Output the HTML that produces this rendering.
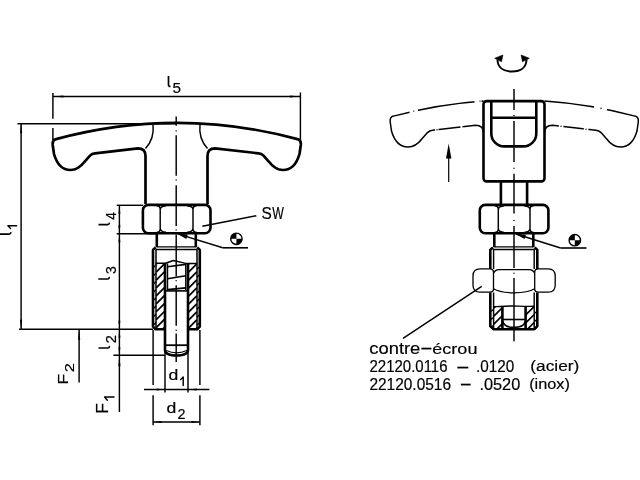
<!DOCTYPE html>
<html><head><meta charset="utf-8"><style>html,body{margin:0;padding:0;background:#fff;}svg{display:block;will-change:transform;}text{font-family:"Liberation Sans",sans-serif;fill:#000;stroke:#000;stroke-width:0.18px;}</style></head><body>
<svg width="640" height="480" viewBox="0 0 640 480">
<rect x="0" y="0" width="640" height="480" fill="#fff"/>
<g fill="none" stroke="#000" stroke-linecap="butt" stroke-linejoin="round">
<path d="M145.5 204 L145.5 156 Q145.5 148.3 138 148.3 L95 153.3 Q92 153.6 90 155.6 L84.5 161.8 C81 166.5 76.5 170 70.5 170 C60 170 56 161 54 154 L52.7 145 C52.3 141 54 139.5 56 139.1 Q176.75 106.6 297.5 139.1 C299.5 139.5 301.2 141 300.8 145 L299.5 154 C297.5 161 293.5 170 283 170 C277 170 272.5 166.5 269 161.8 L263.5 155.6 Q261.5 153.6 258.5 153.3 L215 148.3 Q207.5 148.3 207.5 156 L207.5 204" stroke-width="2.7" />
<path d="M153 124.5 C154 133 151.5 142 145.5 148.5" stroke-width="1.45" />
<path d="M200 124.5 C199 133 201.5 142 207.5 148.5" stroke-width="1.45" />
<rect x="142.9" y="204.9" width="67.60" height="28.30" rx="5.5" stroke-width="2.6"/>
<path d="M156.60 205.80 Q160.20 205.80 160.20 209.40 L160.20 228.70 Q160.20 232.30 156.60 232.30 M166.00 205.80 Q160.20 206.40 160.20 209.80 M160.20 228.30 Q160.20 231.70 166.00 232.30" stroke-width="1.45"/>
<path d="M196.60 205.80 Q193.00 205.80 193.00 209.40 L193.00 228.70 Q193.00 232.30 196.60 232.30 M187.20 205.80 Q193.00 206.40 193.00 209.80 M193.00 228.30 Q193.00 231.70 187.20 232.30" stroke-width="1.45"/>
<line x1="156.8" y1="233.1" x2="156.8" y2="247.2" stroke-width="2.6"/>
<line x1="195.8" y1="233.1" x2="195.8" y2="247.2" stroke-width="2.6"/>
<line x1="156.8" y1="246.9" x2="195.8" y2="246.9" stroke-width="1.3"/>
<path d="M155.5 249.5 L197.3 249.5" stroke-width="1.7" />
<path d="M165 329.3 L155.6 329.3 L153 326.7 L153 249.9 L155.6 247.4" stroke-width="2.6" />
<path d="M188.1 329.3 L197.2 329.3 L199.8 326.7 L199.8 249.9 L197.2 247.4" stroke-width="2.6" />
<line x1="156.0" y1="249.5" x2="156.0" y2="329" stroke-width="1.5"/>
<line x1="197.0" y1="249.5" x2="197.0" y2="329" stroke-width="1.5"/>
<path d="M155.7 263.2 L165.5 263.2 L173.4 260.5 L185.8 263.4 L197.1 263.4" stroke-width="1.45" />
<path d="M157.07 263.30L156.20 264.17M164.40 263.90L156.20 272.10M164.40 271.83L156.20 280.03M164.40 279.76L156.20 287.96M164.40 287.69L156.20 295.89M164.40 295.62L156.20 303.82M164.40 303.55L156.20 311.75M164.40 311.48L156.20 319.68M164.40 319.41L156.20 327.61M164.40 327.34L162.74 329.00" stroke-width="1.7" />
<path d="M189.15 263.60L188.60 264.15M196.80 263.95L188.60 272.15M196.80 271.95L188.60 280.15M196.80 279.95L188.60 288.15M196.80 287.95L188.60 296.15M196.80 295.95L188.60 304.15M196.80 303.95L188.60 312.15M196.80 311.95L188.60 320.15M196.80 319.95L188.60 328.15M196.80 327.95L195.75 329.00" stroke-width="1.7" />
<line x1="153.6" y1="267.3" x2="156.0" y2="265.09999999999997" stroke-width="1.3"/>
<line x1="153.6" y1="275.5" x2="156.0" y2="273.29999999999995" stroke-width="1.3"/>
<line x1="153.6" y1="283.7" x2="156.0" y2="281.49999999999994" stroke-width="1.3"/>
<line x1="153.6" y1="291.90000000000003" x2="156.0" y2="289.7" stroke-width="1.3"/>
<line x1="153.6" y1="300.1" x2="156.0" y2="297.9" stroke-width="1.3"/>
<line x1="153.6" y1="308.3" x2="156.0" y2="306.09999999999997" stroke-width="1.3"/>
<line x1="153.6" y1="316.5" x2="156.0" y2="314.29999999999995" stroke-width="1.3"/>
<line x1="153.6" y1="324.7" x2="156.0" y2="322.49999999999994" stroke-width="1.3"/>
<line x1="197.0" y1="269.1" x2="199.4" y2="266.9" stroke-width="1.3"/>
<line x1="197.0" y1="277.1" x2="199.4" y2="274.9" stroke-width="1.3"/>
<line x1="197.0" y1="285.1" x2="199.4" y2="282.9" stroke-width="1.3"/>
<line x1="197.0" y1="293.1" x2="199.4" y2="290.9" stroke-width="1.3"/>
<line x1="197.0" y1="301.1" x2="199.4" y2="298.9" stroke-width="1.3"/>
<line x1="197.0" y1="309.1" x2="199.4" y2="306.9" stroke-width="1.3"/>
<line x1="197.0" y1="317.1" x2="199.4" y2="314.9" stroke-width="1.3"/>
<line x1="197.0" y1="325.1" x2="199.4" y2="322.9" stroke-width="1.3"/>
<path d="M165.0 263.2 L165.0 349.8 C165.0 353.6 170 355.5 176.5 355.5 C183 355.5 188.0 353.6 188.0 349.8 L188.0 263.4" stroke-width="2.6" />
<path d="M166.3 350.6 Q176.5 355.2 186.7 350.6" stroke-width="1.1" />
<line x1="165.0" y1="345.2" x2="188.0" y2="345.2" stroke-width="1.8"/>
<line x1="167.5" y1="263.4" x2="167.5" y2="290.8" stroke-width="1.45"/>
<line x1="185.8" y1="263.4" x2="185.8" y2="290.8" stroke-width="1.45"/>
<line x1="167.5" y1="266.7" x2="185.8" y2="264.4" stroke-width="1.6"/>
<line x1="167.5" y1="278.8" x2="185.8" y2="275.8" stroke-width="1.6"/>
<line x1="167.5" y1="289.6" x2="185.8" y2="287.9" stroke-width="1.6"/>
<line x1="165.2" y1="290.9" x2="188.1" y2="290.9" stroke-width="1.6"/>
<path d="M176.2 116.5 L176.2 125.8 M176.2 130.5 L176.2 131.5 M176.2 135.2 L176.2 175.8 M176.2 179.5 L176.2 180.5 M176.2 185.2 L176.2 226 M176.2 229.5 L176.2 230.5 M176.2 234.5 L176.2 276.5 M176.2 280.3 L176.2 281.3 M176.2 285.2 L176.2 325.8 M176.2 329.8 L176.2 330.8 M176.2 333.5 L176.2 362" stroke-width="1.45"/>
<line x1="52.9" y1="93" x2="52.9" y2="118.8" stroke-width="1.45"/>
<line x1="52.9" y1="128" x2="52.9" y2="140" stroke-width="1.45"/>
<line x1="300.4" y1="92.5" x2="300.4" y2="140" stroke-width="1.45"/>
<line x1="52.9" y1="96.5" x2="300.4" y2="96.5" stroke-width="1.45"/>
<path d="M53.40 96.50 L63.40 95.55 L63.40 97.45 Z" fill="#000" stroke="none"/>
<path d="M299.90 96.50 L289.90 97.45 L289.90 95.55 Z" fill="#000" stroke="none"/>
<line x1="17.5" y1="123.7" x2="176" y2="123.7" stroke-width="1.45"/>
<line x1="21.1" y1="123.7" x2="21.1" y2="329.2" stroke-width="1.45"/>
<path d="M21.10 124.20 L22.20 133.20 L20.00 133.20 Z" fill="#000" stroke="none"/>
<path d="M21.10 328.70 L20.00 319.70 L22.20 319.70 Z" fill="#000" stroke="none"/>
<line x1="19" y1="329.2" x2="153" y2="329.2" stroke-width="1.45"/>
<line x1="116.7" y1="205.3" x2="143" y2="205.3" stroke-width="1.45"/>
<line x1="116.7" y1="233.8" x2="156.8" y2="233.8" stroke-width="1.45"/>
<line x1="119.4" y1="205.3" x2="119.4" y2="412" stroke-width="1.45"/>
<path d="M119.40 205.80 L120.40 213.80 L118.40 213.80 Z" fill="#000" stroke="none"/>
<path d="M119.40 233.30 L118.40 225.30 L120.40 225.30 Z" fill="#000" stroke="none"/>
<path d="M119.40 234.30 L120.40 242.30 L118.40 242.30 Z" fill="#000" stroke="none"/>
<path d="M119.40 328.70 L118.40 320.70 L120.40 320.70 Z" fill="#000" stroke="none"/>
<path d="M119.40 329.70 L120.40 337.70 L118.40 337.70 Z" fill="#000" stroke="none"/>
<path d="M119.40 355.20 L118.40 347.20 L120.40 347.20 Z" fill="#000" stroke="none"/>
<line x1="113.4" y1="355.3" x2="165.0" y2="355.3" stroke-width="1.45"/>
<path d="M119.40 356.20 L120.50 366.20 L118.30 366.20 Z" fill="#000" stroke="none"/>
<line x1="79.1" y1="329.2" x2="79.1" y2="382.4" stroke-width="1.45"/>
<path d="M79.10 329.80 L80.20 339.80 L78.00 339.80 Z" fill="#000" stroke="none"/>
<line x1="165.0" y1="352" x2="165.0" y2="392.5" stroke-width="1.45"/>
<line x1="188.0" y1="352" x2="188.0" y2="392.5" stroke-width="1.45"/>
<line x1="144" y1="389.5" x2="209.4" y2="389.5" stroke-width="1.45"/>
<path d="M164.70 389.50 L156.70 390.50 L156.70 388.50 Z" fill="#000" stroke="none"/>
<path d="M188.60 389.50 L196.60 388.50 L196.60 390.50 Z" fill="#000" stroke="none"/>
<line x1="153.1" y1="330" x2="153.1" y2="385" stroke-width="1.45"/>
<line x1="199.9" y1="330" x2="199.9" y2="385" stroke-width="1.45"/>
<line x1="153.1" y1="395.3" x2="153.1" y2="425.3" stroke-width="1.45"/>
<line x1="199.9" y1="395.3" x2="199.9" y2="425.3" stroke-width="1.45"/>
<line x1="153.1" y1="422" x2="199.9" y2="422" stroke-width="1.45"/>
<path d="M153.60 422.00 L161.60 421.00 L161.60 423.00 Z" fill="#000" stroke="none"/>
<path d="M199.40 422.00 L191.40 423.00 L191.40 421.00 Z" fill="#000" stroke="none"/>
<line x1="256.3" y1="215.8" x2="202.3" y2="226.3" stroke-width="1.45"/>
<line x1="177.8" y1="233.9" x2="222.7" y2="247.8" stroke-width="1.45"/>
<line x1="222.7" y1="247.8" x2="248" y2="247.8" stroke-width="1.6"/>
<path d="M177.00 233.60 L187.71 234.50 L186.35 238.90 Z" fill="#000" stroke="none"/>
<path d="M483.5 100.9 Q438.5 104.0 393.5 116.1 C391.5 116.5 389.8 118 390.2 122 L391.5 131 C393.5 138 397.5 147 408 147 C414 147 418.5 143.5 422 138.8 L427.5 132.6 Q429.5 130.6 432.5 130.3 L475.5 125.3 Q483.5 125.3 483.5 133" stroke-width="1.5" />
<path d="M544.5 100.9 Q589.8 103.9 635 116.1 C637 116.5 638.7 118 638.3 122 L637 131 C635 138 631 147 620.5 147 C614.5 147 610 143.5 606.5 138.8 L601 132.6 Q599 130.6 596 130.3 L552.5 125.3 Q544.5 125.3 544.5 133" stroke-width="1.5" />
<line x1="409.5" y1="112.08" x2="418" y2="110.18" stroke="#fff" stroke-width="3.2"/>
<circle cx="413.8" cy="111.1" r="0.7" fill="#000" stroke="none"/>
<line x1="474.5" y1="101.6" x2="481.5" y2="101.04" stroke="#fff" stroke-width="3.2"/>
<circle cx="480.0" cy="101.1" r="0.7" fill="#000" stroke="none"/>
<line x1="435" y1="130.01" x2="438.5" y2="129.6" stroke="#fff" stroke-width="3.2"/>
<circle cx="437" cy="129.78" r="0.7" fill="#000" stroke="none"/>
<line x1="460.5" y1="127.1" x2="462.5" y2="126.9" stroke="#fff" stroke-width="3.2"/>
<line x1="594" y1="106.94" x2="607" y2="109.44" stroke="#fff" stroke-width="3.2"/>
<circle cx="601" cy="108.24" r="0.7" fill="#000" stroke="none"/>
<line x1="558.8" y1="126.02" x2="563.4" y2="126.55" stroke="#fff" stroke-width="3.2"/>
<circle cx="561" cy="126.28" r="0.7" fill="#000" stroke="none"/>
<line x1="583.8" y1="128.9" x2="588.4" y2="129.4" stroke="#fff" stroke-width="3.2"/>
<circle cx="586" cy="129.15" r="0.7" fill="#000" stroke="none"/>
<rect x="483.5" y="101.1" width="61" height="80.3" rx="3.2" fill="#fff" stroke-width="2.6"/>
<path d="M491.3 101.1 L491.3 133.4 C491.3 140.6 497.1 146.4 504.3 146.4 L523.3 146.4 C530.5 146.4 536.3 140.6 536.3 133.4 L536.3 101.1" stroke-width="2.6" />
<line x1="491.3" y1="117.8" x2="536.3" y2="117.8" stroke-width="2.6"/>
<line x1="500.9" y1="181" x2="500.9" y2="205" stroke-width="2.6"/>
<line x1="527.1" y1="181" x2="527.1" y2="205" stroke-width="2.6"/>
<rect x="479.8" y="204.9" width="68.60" height="28.40" rx="5.5" stroke-width="2.6"/>
<path d="M494.70 205.80 Q498.30 205.80 498.30 209.40 L498.30 228.80 Q498.30 232.40 494.70 232.40 M504.10 205.80 Q498.30 206.40 498.30 209.80 M498.30 228.40 Q498.30 231.80 504.10 232.40" stroke-width="1.45"/>
<path d="M533.60 205.80 Q530.00 205.80 530.00 209.40 L530.00 228.80 Q530.00 232.40 533.60 232.40 M524.20 205.80 Q530.00 206.40 530.00 209.80 M530.00 228.40 Q530.00 231.80 524.20 232.40" stroke-width="1.45"/>
<line x1="494.3" y1="233.2" x2="494.3" y2="247.2" stroke-width="2.6"/>
<line x1="533.3" y1="233.2" x2="533.3" y2="247.2" stroke-width="2.6"/>
<line x1="494.3" y1="246.9" x2="533.3" y2="246.9" stroke-width="1.3"/>
<path d="M492.8 249.5 L534.8 249.5" stroke-width="1.7" />
<path d="M492.9 247.4 L490.3 249.9 L490.3 326.2 L493.3 329.2 L534.3 329.2 L537.3 326.2 L537.3 249.9 L534.7 247.4" stroke-width="2.6" />
<line x1="493.6" y1="249.5" x2="493.6" y2="329" stroke-width="1.45"/>
<line x1="534.2" y1="249.5" x2="534.2" y2="329" stroke-width="1.45"/>
<path d="M493.6 306.6 C500 306.8 505 306.2 510 306 C516 305.8 522 306.6 534.2 306.3" stroke-width="1.45" />
<path d="M495.20 306.80L493.80 308.20M502.00 308.00L493.80 316.20M502.00 316.00L493.80 324.20M502.00 324.00L497.10 328.90" stroke-width="1.7" />
<path d="M526.10 306.60L526.00 306.70M534.10 306.60L526.00 314.70M534.20 314.50L526.00 322.70M534.20 322.50L527.80 328.90" stroke-width="1.7" />
<line x1="490.9" y1="311.6" x2="493.3" y2="309.4" stroke-width="1.3"/>
<line x1="534.4" y1="313.6" x2="536.8" y2="311.4" stroke-width="1.3"/>
<line x1="490.9" y1="319.6" x2="493.3" y2="317.4" stroke-width="1.3"/>
<line x1="534.4" y1="321.6" x2="536.8" y2="319.4" stroke-width="1.3"/>
<line x1="490.9" y1="327.6" x2="493.3" y2="325.4" stroke-width="1.3"/>
<line x1="534.4" y1="329.6" x2="536.8" y2="327.4" stroke-width="1.3"/>
<line x1="502.4" y1="306.5" x2="502.4" y2="329" stroke-width="2.6"/>
<line x1="525.6" y1="306.4" x2="525.6" y2="329" stroke-width="2.6"/>
<path d="M502.8 321.5 C504 326.3 509 327.4 514 327.4 C519 327.4 524 326.3 525.2 321.5" stroke-width="1.6" />
<line x1="502.5" y1="319.5" x2="525.5" y2="319.5" stroke-width="1.6"/>
<path d="M473 276 Q473 268.9 480 268.9 L548.2 268.9 Q555.2 268.9 555.2 276 L555.2 285 Q555.2 292.4 548.2 292.4 L480 292.4 Q473 292.4 473 285 Z" fill="#fff" stroke="none"/>
<path d="M493.5 271.8 Q493.2 268.9 490 268.9 L480 268.9 Q473 268.9 473 276 L473 285 Q473 292.2 480 292.2 L490 292.2 Q493.2 292.1 493.5 289.5 Z" stroke-width="1.3" />
<path d="M534.7 271.8 Q535 268.9 538.2 268.9 L548.2 268.9 Q555.2 268.9 555.2 276 L555.2 285 Q555.2 292.2 548.2 292.2 L538.2 292.2 Q535 292.1 534.7 289.5 Z" stroke-width="1.3" />
<path d="M493.5 273.2 Q495 269.8 499 269.6 L529.2 269.6 Q533.2 269.8 534.7 273.2 M493.5 288.8 Q500 292.8 514 292.8 Q528 292.8 534.7 288.8" stroke-width="1.3" />
<path d="M514 88.9 L514 110 M514 115 L514 116 M514 121 L514 162 M514 167.8 L514 168.8 M514 173.8 L514 213.6 M514 220 L514 221 M514 226 L514 268 M514 272.8 L514 273.8 M514 278 L514 341.3" stroke-width="1.45"/>
<line x1="516" y1="234.0" x2="560.6" y2="248.0" stroke-width="1.45"/>
<line x1="560.6" y1="248.0" x2="586.5" y2="248.0" stroke-width="1.6"/>
<path d="M515.20 233.70 L525.91 234.65 L524.53 239.04 Z" fill="#000" stroke="none"/>
<line x1="481.7" y1="286.4" x2="403" y2="338.4" stroke-width="1.45"/>
<path d="M497.5 59.5 C497.5 67.5 503.5 71.5 512 71.5 C520.5 71.5 526.5 67.5 526.5 59.5" stroke-width="2.0" />
<path d="M494.7 58.3 L502.9 55 L501.5 61.8 Z" fill="#000" stroke="#000" stroke-width="0.6"/>
<path d="M529.3 58.3 L521.1 55 L522.5 61.8 Z" fill="#000" stroke="#000" stroke-width="0.6"/>
<line x1="448.7" y1="156" x2="448.7" y2="182" stroke-width="1.2"/>
<path d="M448.7 143.5 L451.4 158.5 L446 158.5 Z" fill="#000" stroke="none"/>
</g>
<circle cx="236.4" cy="238.8" r="5.7" fill="#fff" stroke="#000" stroke-width="1.4"/>
<path d="M236.4 238.8 L230.70000000000002 238.8 A5.7 5.7 0 0 1 236.4 233.10000000000002 Z M236.4 238.8 L242.1 238.8 A5.7 5.7 0 0 1 236.4 244.5 Z" fill="#000"/>
<circle cx="574.8" cy="240.2" r="5.7" fill="#fff" stroke="#000" stroke-width="1.4"/>
<path d="M574.8 240.2 L569.0999999999999 240.2 A5.7 5.7 0 0 1 574.8 234.5 Z M574.8 240.2 L580.5 240.2 A5.7 5.7 0 0 1 574.8 245.89999999999998 Z" fill="#000"/>
<text x="0" y="0" font-size="14" transform="matrix(1.0923 0.0000 0.0000 1.0316 172.5808 92.7000)">5</text>
<text x="0" y="0" font-size="15.5" transform="matrix(0.9943 0.0000 0.0000 1.0419 261.4543 218.6000)">S</text>
<text x="0" y="0" font-size="15.5" transform="matrix(0.7930 0.0000 0.0000 1.0419 272.3018 218.6000)">W</text>
<text x="0" y="0" font-size="14.5" transform="matrix(1.2154 0.0000 0.0000 1.0095 168.4923 379.7000)">d</text>
<text x="0" y="0" font-size="14.5" transform="matrix(1.2154 0.0000 0.0000 1.0286 166.3923 412.6000)">d</text>
<text x="0" y="0" font-size="13.5" transform="matrix(1.0667 0.0000 0.0000 1.0421 177.6000 418.7000)">2</text>
<text x="0" y="0" font-size="16" transform="matrix(1.1465 0.0000 0.0000 1.0667 369.3401 354.1333)">contre</text>
<text x="0" y="0" font-size="16" transform="matrix(1.1000 0.0000 0.0000 1.3000 421.4000 354.3500)">–</text>
<text x="0" y="0" font-size="16" transform="matrix(1.1294 0.0000 0.0000 0.9500 432.2529 354.1625)">écrou</text>
<text x="0" y="0" font-size="15.5" transform="matrix(0.9678 0.0000 0.0000 1.0093 369.4741 371.7500)">22120.0116</text>
<text x="0" y="0" font-size="15.5" transform="matrix(1.2353 0.0000 0.0000 1.3000 457.6000 373.2500)">–</text>
<text x="0" y="0" font-size="15.5" transform="matrix(0.9878 0.0000 0.0000 1.0093 476.0184 371.7500)">.0120</text>
<text x="0" y="0" font-size="15.5" transform="matrix(1.1167 0.0000 0.0000 0.9655 530.2833 371.3621)">(acier)</text>
<text x="0" y="0" font-size="15.5" transform="matrix(0.9963 0.0000 0.0000 1.0233 369.4528 389.5000)">22120.0516</text>
<text x="0" y="0" font-size="15.5" transform="matrix(1.1059 0.0000 0.0000 1.3000 461.1000 390.1500)">–</text>
<text x="0" y="0" font-size="15.5" transform="matrix(1.0531 0.0000 0.0000 1.0233 479.4204 389.5000)">.0520</text>
<text x="0" y="0" font-size="15.5" transform="matrix(1.0531 0.0000 0.0000 0.9655 529.1469 388.9621)">(inox)</text>
<text x="0" y="0" font-size="15" transform="matrix(0.0000 -1.1586 1.0341 0.0000 67.5000 384.5483)">F</text>
<text x="0" y="0" font-size="13.5" transform="matrix(0.0000 -1.2167 1.0000 0.0000 73.7000 372.3125)">2</text>
<text x="0" y="0" font-size="15" transform="matrix(0.0000 -1.1724 1.0732 0.0000 108.0000 413.8655)">F</text>
<text x="0" y="0" font-size="13.5" transform="matrix(0.0000 -1.0074 1.0811 0.0000 115.5000 219.8519)">4</text>
<text x="0" y="0" font-size="13.5" transform="matrix(0.0000 -1.0385 1.0789 0.0000 116.0000 274.0192)">3</text>
<text x="0" y="0" font-size="13.5" transform="matrix(0.0000 -1.0833 1.0526 0.0000 115.5000 343.3125)">2</text>
<path d="M168.5 75.9 L168.5 84.8 Q168.5 86.6 170.5 86.39999999999999" fill="none" stroke="#000" stroke-width="1.7"/>
<path d="M183.2 385.6 L183.2 376.9 L180.7 379.5" fill="none" stroke="#000" stroke-width="1.45" stroke-linecap="round" stroke-linejoin="round"/>
<path d="M114.0 397.0 L104.6 397.0 L107.3 400.2" fill="none" stroke="#000" stroke-width="1.45" stroke-linecap="round" stroke-linejoin="round"/>
<path d="M16.6 225.8 L7.9 225.8 L10.5 228.4" fill="none" stroke="#000" stroke-width="1.45" stroke-linecap="round" stroke-linejoin="round"/>
<path d="M-1 234.1 L9.1 234.1 Q10.9 234.1 10.700000000000001 232.1" fill="none" stroke="#000" stroke-width="1.55"/>
<path d="M98.5 224.6 L107.60000000000001 224.6 Q109.4 224.6 109.2 222.6" fill="none" stroke="#000" stroke-width="1.55"/>
<path d="M98.3 278.9 L107.60000000000001 278.9 Q109.4 278.9 109.2 276.9" fill="none" stroke="#000" stroke-width="1.55"/>
<path d="M98.5 347.9 L107.8 347.9 Q109.6 347.9 109.39999999999999 345.9" fill="none" stroke="#000" stroke-width="1.55"/>
</svg></body></html>
